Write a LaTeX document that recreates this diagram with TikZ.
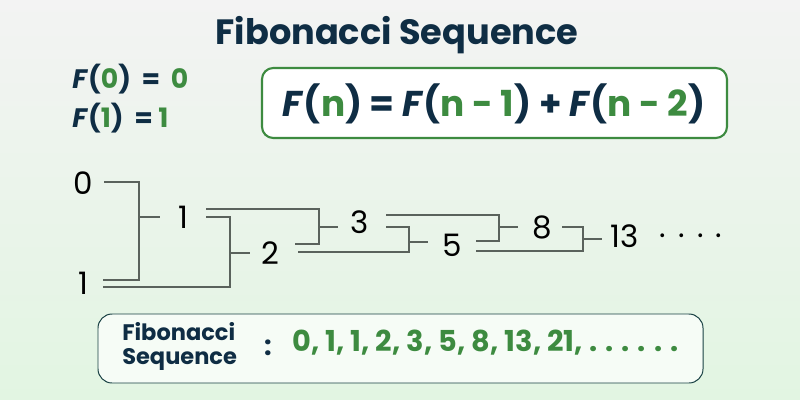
\documentclass[tikz,border=0pt]{standalone}
\usepackage{fontspec}
\setmainfont{Poppins}
\definecolor{navy}{HTML}{0F2D44}
\definecolor{leaf}{HTML}{3D8B40}
\definecolor{wire}{HTML}{5A625C}
\definecolor{bgtop}{HTML}{F3F3F3}
\definecolor{bgbot}{HTML}{E2F5E2}
\newcommand{\gr}[1]{\textcolor{leaf}{#1}}
\begin{document}
\begin{tikzpicture}[x=0.025cm, y=-0.025cm,
    link/.style={draw=wire, line width=0.8pt},
    num/.style={inner sep=0pt, font=\fontsize{22}{26}\selectfont},
    rule/.style={anchor=base west, inner sep=0pt, text=navy,
        font=\fontsize{19}{22}\selectfont\bfseries}]
\useasboundingbox (0,0) rectangle (800,400);
\shade [top color=bgtop, bottom color=bgbot] (0,0) rectangle (800,400);

% title and rules
\node (title) [anchor=base, inner sep=0pt, text=navy,
    font=\fontsize{25}{30}\selectfont\bfseries] at (397,45) {Fibonacci Sequence};
\node (base0) [rule] at (72,89) {\textit{F}(\gr{0})\hspace{0.4em}=\hspace{0.4em}\gr{0}};
\node (base1) [rule] at (72,128) {\textit{F}(\gr{1})\hspace{0.4em}=\hspace{0.2em}\gr{1}};
\draw [draw=leaf, line width=1.5pt, fill=white, rounded corners=8]
    (262,68) rectangle (727,138);
\node (recur) [anchor=base, inner sep=0pt, text=navy,
    font=\fontsize{25.5}{30}\selectfont\bfseries] at (494,117)
    {\textit{F}(\gr{n}) = \textit{F}(\gr{n - 1}) + \textit{F}(\gr{n - 2})};

% the tree of sums
\node (a0) [num] at (83,183) {0};
\node (a1) [num] at (83,283) {1};
\node (a2) [num] at (183,217) {1};
\node (a3) [num] at (270,253) {2};
\node (a4) [num] at (360,222) {3};
\node (a5) [num] at (452,245) {5};
\node (a6) [num] at (542,227) {8};
\node (a7) [num] at (625,236) {13};
\node (more) [num, anchor=west] at (659,236) {.\hspace{0.4em}.\hspace{0.4em}.\hspace{0.4em}.};

\draw [link] (104,182) -| (139,280) -- (103,280);
\draw [link] (139,217) -- (160,217);
\draw [link] (206,217) -| (230,287) -- (103,287);
\draw [link] (230,253) -- (250,253);
\draw [link] (206,209) -| (319,244) -- (295,244);
\draw [link] (319,227) -- (338,227);
\draw [link] (386,227) -| (409,252) -- (298,252);
\draw [link] (409,242) -- (428,242);
\draw [link] (386,215) -| (499,241) -- (476,241);
\draw [link] (499,227) -- (518,227);
\draw [link] (562,227) -| (583,251) -- (476,251);
\draw [link] (583,239) -- (602,239);

% the sequence box
\draw [draw=navy!80!leaf, line width=0.7pt, fill=white!70!bgbot, rounded corners=10]
    (98,314) rectangle (703,383);
\node (seqname) [anchor=base west, inner sep=0pt, text=navy, align=left,
    font=\fontsize{16}{17}\selectfont\bfseries] at (122,364)
    {Fibonacci\\Sequence};
\node (colon) [inner sep=0pt, text=navy, font=\fontsize{19}{22}\selectfont\bfseries]
    at (268,348) {:};
\node (seq) [anchor=base west, inner sep=0pt, text=leaf,
    font=\fontsize{20.5}{24}\selectfont\bfseries] at (292,351)
    {0, 1, 1, 2, 3, 5, 8, 13, 21, . . . . . .};
\end{tikzpicture}
\end{document}
